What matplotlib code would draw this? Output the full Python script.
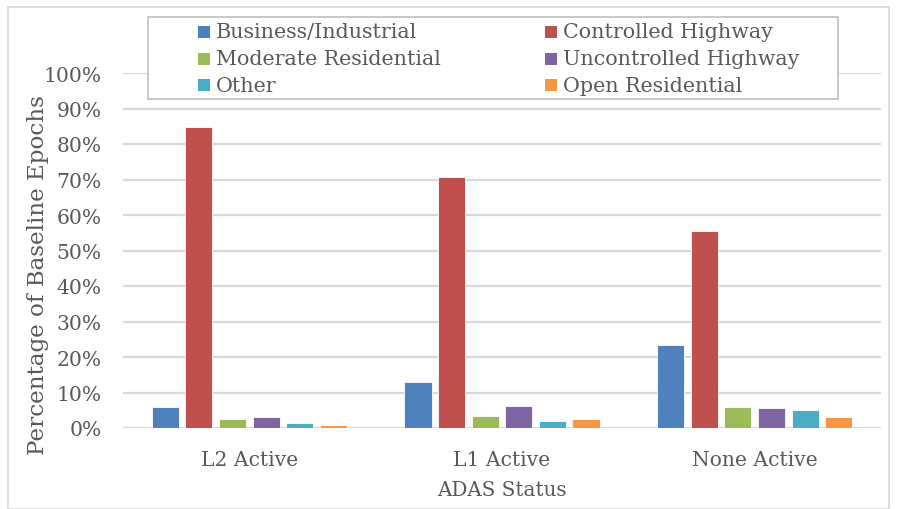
import numpy as np
import matplotlib.pyplot as plt
from matplotlib.patches import Rectangle
from matplotlib.ticker import PercentFormatter

plt.rcParams["font.family"] = ["DejaVu Serif"]

statuses = ["L2 Active", "L1 Active", "None Active"]
road_types = [
    "Business/Industrial", "Controlled Highway", "Moderate Residential",
    "Uncontrolled Highway", "Other", "Open Residential",
]
# percentage of baseline epochs, one list per road type (L2, L1, None)
business = [5.9, 13.0, 23.4]
controlled = [84.8, 70.8, 55.5]
moderate = [2.5, 3.4, 5.9]
uncontrolled = [3.2, 6.3, 5.5]
other = [1.4, 2.0, 5.1]
open_res = [0.9, 2.5, 3.1]
series = [business, controlled, moderate, uncontrolled, other, open_res]
colors = ["#4F81BD", "#C0504D", "#9BBB59", "#8064A2", "#4BACC6", "#F79646"]

text_color = "#595959"
grid_color = "#D9D9D9"

W, H = 897, 510
fig = plt.figure(figsize=(W / 100, H / 100), dpi=100)
fig.patches.append(Rectangle((8 / W, 0), 881 / W, 502 / H, transform=fig.transFigure,
                             fill=False, edgecolor=grid_color, linewidth=1.2))
ax = fig.add_axes([123 / W, 81 / H, 758 / W, 355 / H])

x = np.arange(len(statuses))
step = 0.133
width = 0.107
for i, (vals, col) in enumerate(zip(series, colors)):
    ax.bar(x + (i - 2.5) * step, vals, width, color=col,
           edgecolor="white", linewidth=0.6, zorder=3)

ax.set_xlim(-0.5, 2.5)
ax.set_ylim(0, 100)
ax.set_yticks(np.arange(0, 101, 10))
ax.yaxis.set_major_formatter(PercentFormatter(decimals=0))
ax.grid(axis="y", color=grid_color, linewidth=1.6, zorder=0)
for s in ax.spines.values():
    s.set_visible(False)
ax.tick_params(length=0, labelsize=14.6, colors=text_color)
ax.tick_params(axis="y", pad=15.5)
ax.tick_params(axis="x", pad=16)
ax.set_xticks(x)
ax.set_xticklabels(statuses)
ax.set_xlabel("ADAS Status", fontsize=14.3, color=text_color, labelpad=8)
ax.set_ylabel("Percentage of Baseline Epochs", fontsize=16.6, color=text_color)
ax.yaxis.set_label_coords((49 - 123) / 758, 0.434)

# legend box drawn by hand: two columns, rows filled left to right
fig.patches.append(Rectangle((148 / W, 1 - 100 / H), 690 / W, 82 / H, transform=fig.transFigure,
                             facecolor="white", edgecolor="#BFBFBF", linewidth=1.2, zorder=5))
col_x = [198, 545]
row_y = [33, 59.5, 86]
for i, (name, col) in enumerate(zip(road_types, colors)):
    lx, ly = col_x[i % 2], row_y[i // 2]
    fig.patches.append(Rectangle((lx / W, 1 - (ly + 6) / H), 12 / W, 12 / H,
                                 transform=fig.transFigure, facecolor=col, edgecolor="none", zorder=6))
    fig.text((lx + 18) / W, 1 - ly / H, name, fontsize=14.9, color=text_color,
             va="center", ha="left", zorder=7)

fig.savefig("out.png", dpi=100, facecolor="white")
